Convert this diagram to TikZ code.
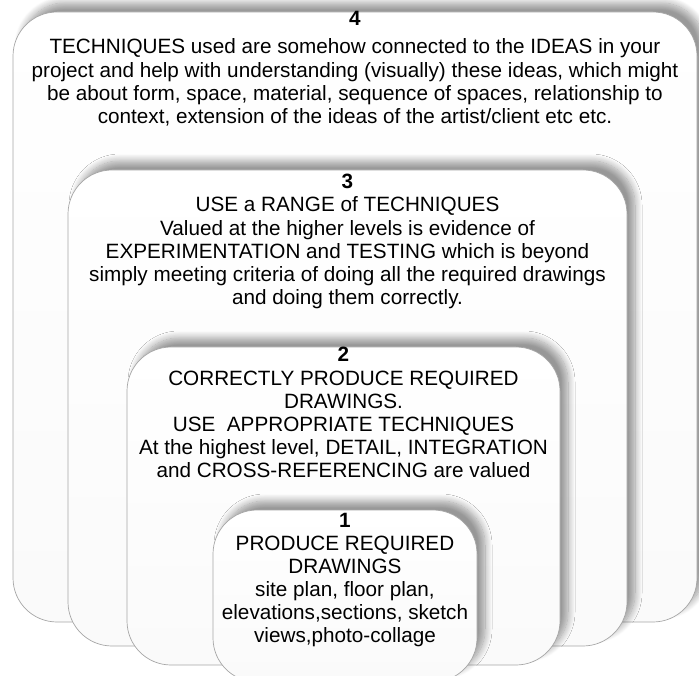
\documentclass[tikz,border=0pt]{standalone}
\usepackage{fontspec}
\setmainfont{Liberation Sans}
\usetikzlibrary{shadows.blur}
\tikzset{
  tierbox/.style={draw=gray!70, line width=0.7pt, rounded corners=44pt,
    top color=white, bottom color=gray!4, inner sep=0pt,
    blur shadow={shadow xshift=8pt, shadow yshift=9pt, shadow blur steps=12,
      shadow blur radius=7pt, shadow opacity=40}},
  tiertext/.style={anchor=base, inner sep=0pt,
    font=\fontsize{20.7}{23.2}\selectfont}
}
% box from left/top/right/bottom (px)
\newcommand{\tierbox}[5]{%
  \node[tierbox, minimum width={(#4-#2)*1pt}, minimum height={(#5-#3)*1pt}]
    (#1) at ({(#2+#4)/2},{(#3+#5)/2}) {};}
% level number and body, each given by its first baseline
\newcommand{\tiernum}[3]{\node[tiertext] (#1num) at (#1.center |- 0,#2) {\textbf{#3}};}
\newcommand{\tierbody}[3]{\node[tiertext] (#1txt) at (#1.center |- 0,#2)
  {\begin{tabular}[t]{@{}c@{}}#3\end{tabular}};}

\begin{document}
\begin{tikzpicture}[x=1pt,y=-1pt]
  \useasboundingbox (0,0) rectangle (699,676);
  \clip (0,0) rectangle (699,676);
  \tierbox{four}{13}{12}{697}{622}
  \tiernum{four}{26}{4}
  \tierbody{four}{54}{TECHNIQUES used are somehow connected to the IDEAS in your\\
    project and help with understanding (visually) these ideas, which might\\
    be about form, space, material, sequence of spaces, relationship to\\
    context, extension of the ideas of the artist/client etc etc.}
  \tierbox{three}{68}{170}{627}{646}
  \tiernum{three}{189}{3}
  \tierbody{three}{212}{USE a RANGE of TECHNIQUES\\
    Valued at the higher levels is evidence of\\
    EXPERIMENTATION and TESTING which is beyond\\
    simply meeting criteria of doing all the required drawings\\
    and doing them correctly.}
  \tierbox{two}{127}{347}{560}{665}
  \tiernum{two}{362}{2}
  \tierbody{two}{385}{CORRECTLY PRODUCE REQUIRED\\
    DRAWINGS.\\
    USE\ \ APPROPRIATE TECHNIQUES\\
    At the highest level, DETAIL, INTEGRATION\\
    and CROSS-REFERENCING are valued}
  \tierbox{one}{213}{510}{477}{682}
  \tiernum{one}{527}{1}
  \tierbody{one}{550}{PRODUCE REQUIRED\\
    DRAWINGS\\
    site plan, floor plan,\\
    elevations,sections, sketch\\
    views,photo-collage}
\end{tikzpicture}
\end{document}
